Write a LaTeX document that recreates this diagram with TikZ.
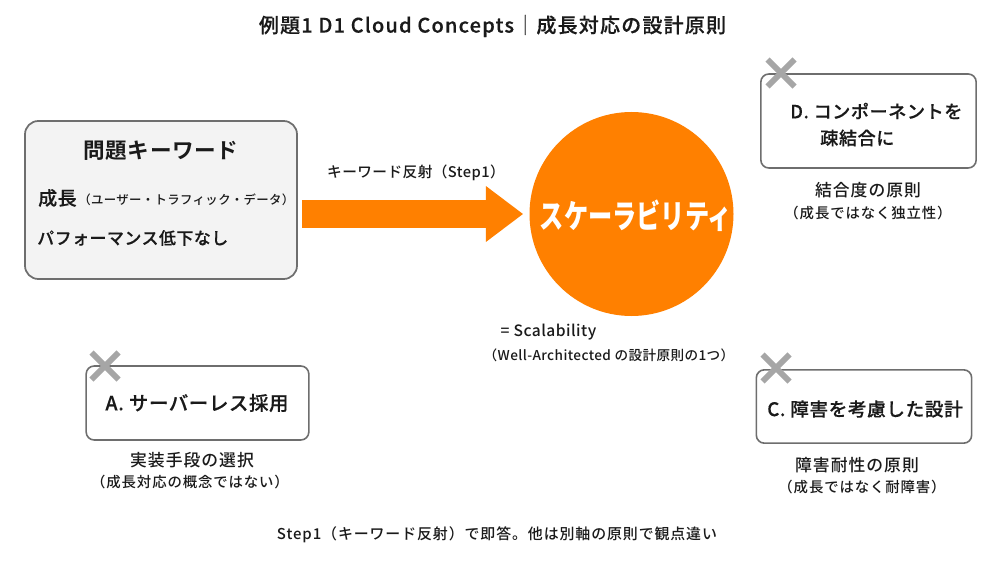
\documentclass[tikz,border=0pt]{standalone}
\usepackage{fontspec}
\usetikzlibrary{arrows.meta,calc}
\setmainfont{Noto Sans CJK JP}
\newfontfamily\jpm[LetterSpace=6]{Noto Sans CJK JP Medium}
\newfontfamily\jpn[LetterSpace=3]{Noto Sans CJK JP Medium}
\newfontfamily\jpt[LetterSpace=6,FakeBold=0.35]{Noto Sans CJK JP Medium}
\newfontfamily\jph[LetterSpace=3,FakeBold=0.35]{Noto Sans CJK JP Medium}
\newfontfamily\jpb[LetterSpace=3]{Noto Sans CJK JP Bold}
\definecolor{ink}{HTML}{1A1A1A}
\definecolor{orangeA}{HTML}{FF8000}
\definecolor{edgeG}{HTML}{6E6E6E}
\definecolor{crossG}{HTML}{A6A6A6}
\definecolor{panelG}{HTML}{F3F3F3}
\tikzset{
  x=0.75pt,y=-0.75pt,
  txt/.style={text=ink,inner sep=0pt,align=center},
  optbox/.style={draw=edgeG,line width=1.2pt,rounded corners=6pt,fill=white,inner sep=0pt},
  crossmark/.style={draw=crossG,line width=4.4pt},
}
\newcommand{\crossat}[2]{\draw[crossmark] (#1-13.5,#2-13.5)--(#1+13.5,#2+13.5) (#1-13.5,#2+13.5)--(#1+13.5,#2-13.5);}
\begin{document}
\begin{tikzpicture}
\useasboundingbox (0,0) rectangle (1000,563);
\fill[white] (0,0) rectangle (1000,563);
\node[txt,font=\jpt\fontsize{15pt}{16pt}\selectfont] (title) at (492.5,26) {例題1 D1 Cloud Concepts｜成長対応の設計原則};
% keyword box
\node[draw=edgeG,line width=1.3pt,rounded corners=10pt,fill=panelG,minimum width=204pt,minimum height=118.5pt,inner sep=0pt] (kw) at (161,200) {};
\node[txt,font=\jpb\fontsize{16.2pt}{18pt}\selectfont] (kwt) at (161,151) {問題キーワード};
\node[txt,anchor=west,font=\jph\fontsize{14.2pt}{16pt}\selectfont] (kw1) at (38,198) {成長};
\node[txt,anchor=west,font=\jpn\fontsize{9.3pt}{12pt}\selectfont] (kw1b) at (78,200) {（ユーザー・トラフィック・データ）};
\node[txt,anchor=west,font=\jph\fontsize{12.7pt}{16pt}\selectfont] (kw2) at (37,238) {パフォーマンス低下なし};
% circle
\node[circle,fill=orangeA,minimum size=153pt,inner sep=0pt] (circ) at (631.5,214) {};
\node[txt,text=white,font=\bfseries\fontsize{23pt}{24pt}\selectfont,xscale=0.79,yscale=1.07] (circt) at (636,216) {スケーラビリティ};
% arrow
\coordinate (arrS) at ($(kw.east |- circ.west)+(4,0)$);
\coordinate (arrE) at ($(circ.west)+(-6,0)$);
\draw[orangeA,line width=21pt,-{Triangle[length=28pt,width=40pt,fill=orangeA]}] (arrS) -- (arrE);
\node[txt,font=\jpn\fontsize{11pt}{13pt}\selectfont] (arrl) at (416,173) {キーワード反射（Step1）};
% scalability note
\node[txt,font=\jpn\fontsize{11.7pt}{13pt}\selectfont] (s1) at (548.5,332) {= Scalability};
\node[txt,font=\jpn\fontsize{10.2pt}{13pt}\selectfont] (s2) at (609,355) {（Well-Architected の設計原則の1つ）};
% D
\node[optbox,minimum width=161.5pt,minimum height=70.5pt] (D) at (868.5,121) {};
\crossat{781}{73}
\node[txt,anchor=west,font=\jph\fontsize{13.6pt}{16pt}\selectfont] (Dt1) at (790,111) {D. コンポーネントを};
\node[txt,anchor=west,font=\jph\fontsize{13.6pt}{16pt}\selectfont] (Dt2) at (820,138) {疎結合に};
\node[txt,font=\jpm\fontsize{12.6pt}{13pt}\selectfont] (Dn1) at (868,190) {結合度の原則};
\node[txt,font=\jpm\fontsize{10.8pt}{13pt}\selectfont] (Dn2) at (868,213) {（成長ではなく独立性）};
% A
\node[optbox,minimum width=167pt,minimum height=55.5pt] (A) at (197.5,403) {};
\crossat{105}{366}
\node[txt,font=\jph\fontsize{14.6pt}{16pt}\selectfont] (At) at (197,403) {A. サーバーレス採用};
\node[txt,font=\jpm\fontsize{12.6pt}{13pt}\selectfont] (An1) at (192,460) {実装手段の選択};
\node[txt,font=\jpm\fontsize{10.8pt}{13pt}\selectfont] (An2) at (190,482) {（成長対応の概念ではない）};
% C
\node[optbox,minimum width=161.5pt,minimum height=55pt] (C) at (864,406.5) {};
\crossat{776}{368}
\node[txt,font=\jph\fontsize{14pt}{16pt}\selectfont] (Ct) at (865,409) {C. 障害を考慮した設計};
\node[txt,font=\jpm\fontsize{12.6pt}{13pt}\selectfont] (Cn1) at (857,465) {障害耐性の原則};
\node[txt,font=\jpm\fontsize{10.8pt}{13pt}\selectfont] (Cn2) at (862,487) {（成長ではなく耐障害）};
% footer
\node[txt,font=\jpm\fontsize{11.2pt}{13pt}\selectfont] (foot) at (497,535) {Step1（キーワード反射）で即答。他は別軸の原則で観点違い};
\end{tikzpicture}
\end{document}
